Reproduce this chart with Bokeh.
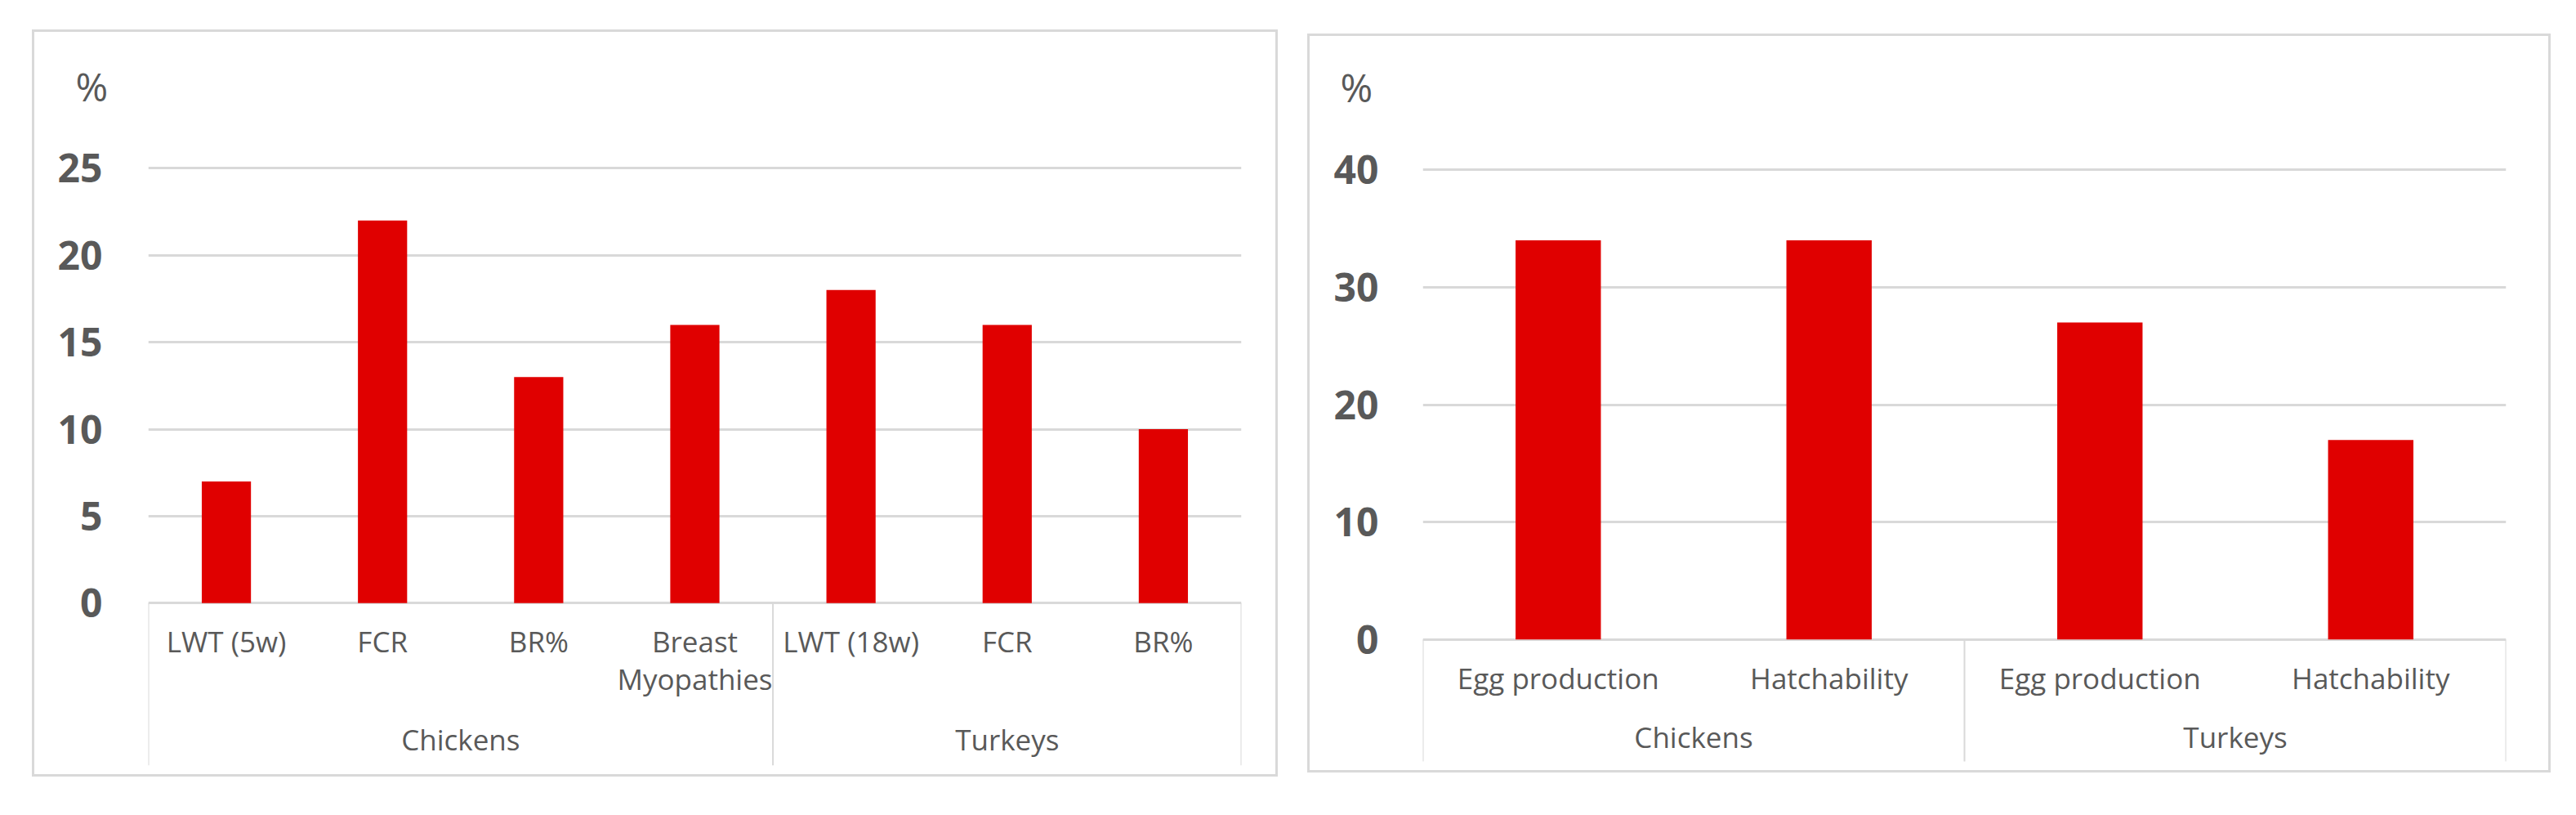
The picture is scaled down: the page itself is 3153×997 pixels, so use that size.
from bokeh.plotting import figure
from bokeh.models import FactorRange, Range1d, FixedTicker, Title, Spacer
from bokeh.layouts import row, column
from bokeh.embed import file_html
from bokeh.resources import INLINE
from bokeh.core.properties import value

# ---------------- data ----------------
LEFT_GROUPS = ["Chickens", "Chickens", "Chickens", "Chickens", "Turkeys", "Turkeys", "Turkeys"]
LEFT_CATS = ["LWT (5w)", "FCR", "BR%", "Breast\nMyopathies", "LWT (18w)", "FCR", "BR%"]
LEFT_VALUES = [7, 22, 13, 16, 18, 16, 10]
LEFT_TICKS = [0, 5, 10, 15, 20, 25]

RIGHT_GROUPS = ["Chickens", "Chickens", "Turkeys", "Turkeys"]
RIGHT_CATS = ["Egg production", "Hatchability", "Egg production", "Hatchability"]
RIGHT_VALUES = [34, 34, 27, 17]
RIGHT_TICKS = [0, 10, 20, 30, 40]

UNIT_LABEL = "%"

# ---------------- style ----------------
FONT = "Open Sans"
TEXT_COLOR = "#595959"
GRID_COLOR = "#d9d9d9"
BAR_COLOR = "#e00000"


def build(groups, cats, values, ticks, cfg):
    factors = list(zip(groups, cats))
    x_range = FactorRange(factors=factors, factor_padding=0, group_padding=0,
                          subgroup_padding=0, range_padding=0)
    p = figure(x_range=x_range, y_range=Range1d(cfg["y_start"], cfg["y_end"]),
               width=cfg["width"], height=cfg["height"],
               output_backend="svg", toolbar_location=None, title=None,
               x_axis_location=None,
               min_border_left=cfg["ml"], min_border_right=cfg["mr"],
               min_border_top=cfg["mt"], min_border_bottom=cfg["mb"])
    p.background_fill_color = "white"
    p.border_fill_color = "white"
    p.outline_line_color = None
    p.styles = {"border": f"3px solid {GRID_COLOR}"}

    # unit label above the value axis
    p.add_layout(Title(text=UNIT_LABEL, align="left", offset=cfg["pct_dx"],
                       vertical_align="bottom",
                       text_font=FONT, text_font_size="48px", text_font_style="normal",
                       text_color=TEXT_COLOR), "above")

    # y axis
    yaxis = p.yaxis[0]
    yaxis.ticker = FixedTicker(ticks=ticks)
    yaxis.axis_line_color = None
    yaxis.major_tick_line_color = None
    yaxis.minor_tick_line_color = None
    yaxis.major_tick_out = 0
    yaxis.major_tick_in = 0
    yaxis.major_label_standoff = cfg["standoff"]
    yaxis.major_label_text_font = FONT
    yaxis.major_label_text_font_style = "bold"
    yaxis.major_label_text_font_size = "48px"
    yaxis.major_label_text_color = TEXT_COLOR

    p.xgrid.visible = False
    p.ygrid.ticker = FixedTicker(ticks=ticks)
    p.ygrid.grid_line_color = GRID_COLOR
    p.ygrid.grid_line_width = 3

    # bars
    p.vbar(x=factors, top=values, width=0.315, color=BAR_COLOR, line_color=None)

    # category labels (possibly multi-line)
    lx, ly, lt = [], [], []
    for f, c in zip(factors, cats):
        for i, line in enumerate(c.split("\n")):
            lx.append(f)
            ly.append(cfg["label_y"] - i * cfg["line_step"])
            lt.append(line)
    p.text(x=lx, y=ly, text=lt, text_align="center", text_baseline="middle",
           text_font=value(FONT), text_font_size="35px", text_color=TEXT_COLOR)

    # group labels
    ugroups = list(dict.fromkeys(groups))
    p.text(x=ugroups, y=[cfg["group_y"]] * len(ugroups), text=ugroups,
           text_align="center", text_baseline="middle",
           text_font=value(FONT), text_font_size="35px", text_color=TEXT_COLOR)

    # separators between groups
    bounds = [0]
    for g in ugroups:
        bounds.append(bounds[-1] + groups.count(g))
    p.segment(x0=bounds, y0=[0] * len(bounds), x1=bounds,
              y1=[cfg["sep_bottom"]] * len(bounds),
              line_color=GRID_COLOR, line_width=2)
    return p


left_cfg = dict(width=1525, height=914, ml=139, mr=48, mt=103, mb=12,
                y_start=-9.573, y_end=27.98, standoff=56,
                label_y=-2.2, line_step=2.15, group_y=-7.85, sep_bottom=-9.33,
                pct_dx=-89)
right_cfg = dict(width=1522, height=904, ml=138, mr=58, mt=99, mb=7,
                 y_start=-11.09, y_end=44.49, standoff=54,
                 label_y=-3.3, line_step=2.15, group_y=-8.3, sep_bottom=-10.39,
                 pct_dx=-101)

p1 = build(LEFT_GROUPS, LEFT_CATS, LEFT_VALUES, LEFT_TICKS, left_cfg)
p2 = build(RIGHT_GROUPS, RIGHT_CATS, RIGHT_VALUES, RIGHT_TICKS, right_cfg)

layout = row(Spacer(width=39),
             column(Spacer(height=36), p1),
             Spacer(width=36),
             column(Spacer(height=41), p2))

open("out.html", "w").write(file_html(layout, INLINE))
